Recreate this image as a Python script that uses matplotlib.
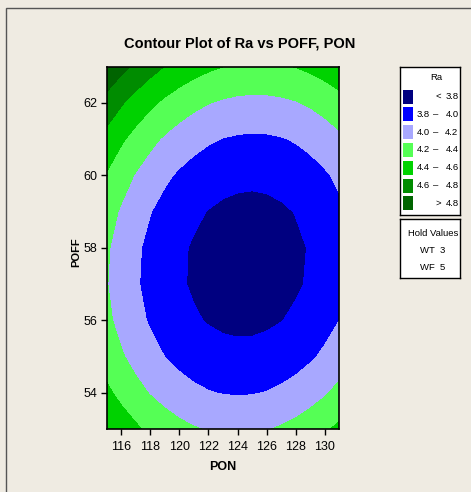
import numpy as np
import matplotlib
matplotlib.use("Agg")
import matplotlib.pyplot as plt
from matplotlib.patches import Rectangle

plt.rcParams["font.family"] = ["Liberation Sans", "DejaVu Sans"]

# grid (Ra at PON x POFF)
pon = list(range(115, 132))
poff = list(range(53, 64))
ra = [
    [4.590, 4.512, 4.430, 4.359, 4.300, 4.251, 4.214, 4.187, 4.171, 4.167, 4.173, 4.191, 4.219, 4.258, 4.309, 4.370, 4.443],
    [4.438, 4.343, 4.260, 4.188, 4.127, 4.076, 4.037, 4.009, 3.992, 3.985, 3.990, 4.006, 4.033, 4.070, 4.119, 4.179, 4.250],
    [4.316, 4.220, 4.135, 4.061, 3.998, 3.947, 3.906, 3.876, 3.857, 3.849, 3.852, 3.866, 3.891, 3.927, 3.974, 4.033, 4.102],
    [4.239, 4.142, 4.055, 3.980, 3.915, 3.862, 3.819, 3.788, 3.767, 3.758, 3.759, 3.772, 3.795, 3.829, 3.875, 3.931, 3.999],
    [4.208, 4.109, 4.021, 3.943, 3.877, 3.822, 3.778, 3.745, 3.722, 3.711, 3.711, 3.722, 3.744, 3.777, 3.820, 3.875, 3.941],
    [4.222, 4.121, 4.031, 3.952, 3.884, 3.827, 3.782, 3.747, 3.723, 3.710, 3.708, 3.717, 3.737, 3.769, 3.811, 3.864, 3.928],
    [4.280, 4.178, 4.086, 4.006, 3.936, 3.878, 3.830, 3.794, 3.768, 3.754, 3.750, 3.758, 3.776, 3.806, 3.846, 3.898, 3.960],
    [4.384, 4.280, 4.187, 4.105, 4.033, 3.973, 3.924, 3.886, 3.859, 3.843, 3.837, 3.843, 3.860, 3.888, 3.927, 3.977, 4.038],
    [4.533, 4.427, 4.332, 4.248, 4.175, 4.114, 4.063, 4.023, 3.994, 3.977, 3.970, 3.974, 3.989, 4.015, 4.053, 4.101, 4.160],
    [4.726, 4.619, 4.522, 4.437, 4.363, 4.299, 4.247, 4.205, 4.175, 4.155, 4.147, 4.150, 4.163, 4.188, 4.223, 4.270, 4.327],
    [4.965, 4.856, 4.758, 4.671, 4.595, 4.530, 4.476, 4.433, 4.400, 4.379, 4.369, 4.370, 4.382, 4.405, 4.439, 4.484, 4.540],
]

levels = [0, 3.8, 4.0, 4.2, 4.4, 4.6, 4.8, 10]
band_colors = ["#000080", "#0000FF", "#A8A8FF", "#55FF55", "#00D200", "#008C00", "#006400"]
band_labels = [("<", "3.8"), ("3.8", "4.0"), ("4.0", "4.2"), ("4.2", "4.4"),
               ("4.4", "4.6"), ("4.6", "4.8"), (">", "4.8")]
hold_values = [("WT", "3"), ("WF", "5")]

bg = "#EFEBE2"
W, H = 471, 492
fig = plt.figure(figsize=(W / 100, H / 100), dpi=100, facecolor=bg)

# outer frame
fig.patches.append(Rectangle((6 / W, -0.1), 1.2, 1 - 8 / H + 0.1, transform=fig.transFigure,
                             fill=False, edgecolor="#555555", lw=1.0))

ax = fig.add_axes([106.7 / W, 1 - 429 / H, 232.6 / W, 362.3 / H])
ax.contourf(pon, poff, ra, levels=levels, colors=band_colors, antialiased=False)
ax.set_xlim(115, 131)
ax.set_ylim(53, 63)
ax.set_xticks(range(116, 131, 2))
ax.set_yticks(range(54, 63, 2))
ax.tick_params(direction="out", length=4.5, width=1, labelsize=9, colors="black")
ax.tick_params(axis="x", pad=4)
ax.tick_params(axis="y", pad=2)
for s in ax.spines.values():
    s.set_linewidth(1.2)
ax.set_xlabel("PON", fontsize=9, fontweight="bold")
ax.set_ylabel("POFF", fontsize=8, fontweight="bold")
ax.xaxis.set_label_coords(0.5, -0.104)
ax.yaxis.set_label_coords(-0.132, 0.489)
ax.xaxis.label.set_va("center")
ax.yaxis.label.set_va("center")

fig.text(240 / W, 1 - 44 / H, "Contour Plot of Ra vs POFF, PON", ha="center", va="center",
         fontsize=10.5, fontweight="bold")

# legend box
fs = 6.8
lg = fig.add_axes([400 / W, 1 - 215 / H, 60 / W, 148 / H])
lg.set_xlim(0, 60)
lg.set_ylim(148, 0)
lg.set_xticks([])
lg.set_yticks([])
lg.set_facecolor("white")
for s in lg.spines.values():
    s.set_linewidth(1)
lg.text(36.5, 11, "Ra", ha="center", va="center", fontsize=fs)
for i, (col, (a, b)) in enumerate(zip(band_colors, band_labels)):
    yc = 29.6 + i * 17.8
    lg.add_patch(Rectangle((3.3, yc - 7), 10, 14, facecolor=col, edgecolor="none"))
    if a in ("<", ">"):
        lg.text(38, yc, a, ha="center", va="center", fontsize=fs)
    else:
        lg.text(17, yc, a, ha="left", va="center", fontsize=fs)
        lg.text(35.5, yc, "\u2013", ha="center", va="center", fontsize=fs)
    lg.text(58.5, yc, b, ha="right", va="center", fontsize=fs)

hv = fig.add_axes([400 / W, 1 - 278 / H, 60 / W, 59 / H])
hv.set_xlim(0, 60)
hv.set_ylim(59, 0)
hv.set_xticks([])
hv.set_yticks([])
hv.set_facecolor("white")
for s in hv.spines.values():
    s.set_linewidth(1)
hv.text(33, 14, "Hold Values", ha="center", va="center", fontsize=fs)
for j, (name, val) in enumerate(hold_values):
    hv.text(33, 31.5 + j * 17.5, f"{name}  {val}", ha="center", va="center", fontsize=fs)

fig.savefig("out.png", dpi=100, facecolor=bg)
